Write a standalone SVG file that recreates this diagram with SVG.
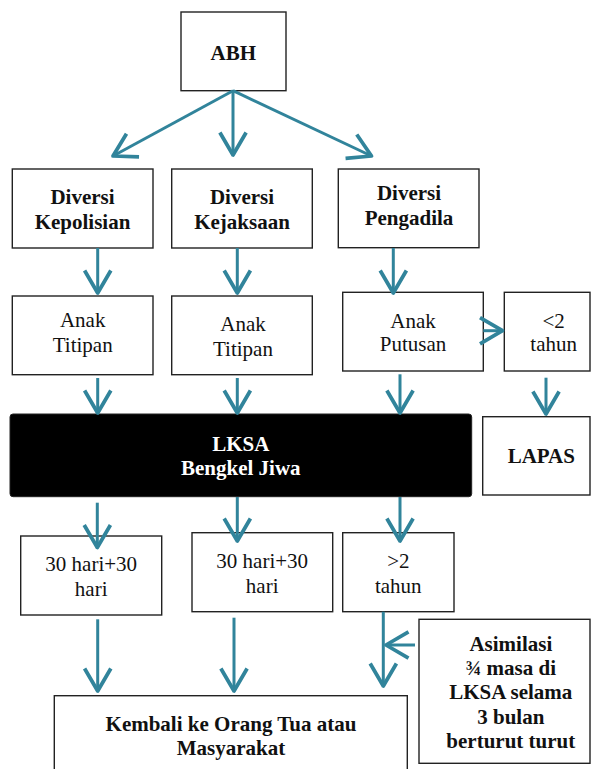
<svg xmlns="http://www.w3.org/2000/svg" width="591" height="769" viewBox="0 0 591 769">
<style>
.box{fill:#fff;stroke:#222;stroke-width:1.4}
.t{font-family:'Liberation Serif','Times New Roman',Tinos,'Nimbus Roman','DejaVu Serif',serif;font-size:21px;text-anchor:middle;fill:#111}
.b{font-weight:bold}
.w{fill:#fff}
.c line{stroke:#31849B;stroke-width:3;fill:none;marker-end:url(#ah)}
</style>
<defs>
<marker id="ah" markerUnits="userSpaceOnUse" markerWidth="40" markerHeight="40" viewBox="-24 -16 28 32" refX="0" refY="0" orient="auto" overflow="visible">
<path d="M-18,-10.5 L0,0 L-18,10.5" fill="none" stroke="#31849B" stroke-width="3" stroke-linejoin="round"/>
</marker>
</defs>
<rect width="591" height="769" fill="#fff"/>
<g id="abh"><rect class="box" x="181" y="12" width="105" height="78.7"/><text class="t b" x="233.3" y="60">ABH</text></g>
<g id="div-kepolisian"><rect class="box" x="12.3" y="169" width="140.7" height="79"/><text class="t b" x="82.5" y="204">Diversi</text><text class="t b" x="82.5" y="229">Kepolisian</text></g>
<g id="div-kejaksaan"><rect class="box" x="171.7" y="169" width="140.6" height="79"/><text class="t b" x="242" y="204">Diversi</text><text class="t b" x="242" y="229">Kejaksaan</text></g>
<g id="div-pengadila"><rect class="box" x="338.3" y="169" width="140.7" height="78.7"/><text class="t b" x="409" y="200">Diversi</text><text class="t b" x="409" y="225">Pengadila</text></g>
<g id="titipan1"><rect class="box" x="12.3" y="296" width="140.7" height="78.7"/><text class="t" x="82.7" y="327">Anak</text><text class="t" x="82.7" y="351.7">Titipan</text></g>
<g id="titipan2"><rect class="box" x="171.7" y="296" width="140.6" height="78.7"/><text class="t" x="243" y="330.7">Anak</text><text class="t" x="243" y="356">Titipan</text></g>
<g id="putusan"><rect class="box" x="342.7" y="292.3" width="140.6" height="78.7"/><text class="t" x="413" y="328.3">Anak</text><text class="t" x="413" y="351">Putusan</text></g>
<g id="kurang2"><rect class="box" x="504.3" y="292.3" width="85.7" height="78.7"/><text class="t" x="553.7" y="328.3">&lt;2</text><text class="t" x="553.7" y="351">tahun</text></g>
<g id="lksa"><rect x="10" y="414" width="461.7" height="82.7" rx="3" fill="#000" stroke="#222" stroke-width="1"/><text class="t b w" x="240.8" y="451">LKSA</text><text class="t b w" x="240.8" y="475">Bengkel Jiwa</text></g>
<g id="lapas"><rect class="box" x="482.7" y="416.7" width="107.3" height="78.3"/><text class="t b" x="541.3" y="462.7">LAPAS</text></g>
<g id="hari1"><rect class="box" x="20.7" y="536" width="141" height="79"/><text class="t" x="91.2" y="571">30 hari+30</text><text class="t" x="91.2" y="596">hari</text></g>
<g id="hari2"><rect class="box" x="192" y="532.7" width="140.7" height="79"/><text class="t" x="262.2" y="568.3">30 hari+30</text><text class="t" x="262.2" y="592.7">hari</text></g>
<g id="lebih2"><rect class="box" x="342.7" y="532.7" width="111.3" height="79"/><text class="t" x="398.3" y="568.3">&gt;2</text><text class="t" x="398.3" y="592.7">tahun</text></g>
<g id="kembali"><rect class="box" x="54.3" y="695.7" width="353" height="90"/><text class="t b" x="231" y="730.7">Kembali ke Orang Tua atau</text><text class="t b" x="231" y="755">Masyarakat</text></g>
<g id="asimilasi"><rect class="box" x="419" y="619.3" width="171" height="144"/><text class="t b" x="510.8" y="651">Asimilasi</text><text class="t b" x="510.8" y="675">¾ masa di</text><text class="t b" x="510.8" y="699.3">LKSA selama</text><text class="t b" x="510.8" y="724">3 bulan</text><text class="t b" x="510.8" y="748.3">berturut turut</text></g>
<g id="connectors" class="c">
<line x1="233" y1="90.7" x2="113" y2="156"/>
<line x1="233" y1="90.7" x2="233" y2="155"/>
<line x1="233" y1="90.7" x2="371.5" y2="156"/>
<line x1="97.7" y1="248" x2="97.7" y2="293"/>
<line x1="237.3" y1="248" x2="237.3" y2="293"/>
<line x1="393.3" y1="248" x2="393.3" y2="293"/>
<line x1="483.3" y1="330.7" x2="502.5" y2="330.7"/>
<line x1="97.7" y1="378" x2="97.7" y2="413"/>
<line x1="237.3" y1="378" x2="237.3" y2="413"/>
<line x1="400" y1="374.3" x2="400" y2="413"/>
<line x1="546" y1="377.7" x2="546" y2="414"/>
<line x1="97.3" y1="502.7" x2="97.3" y2="547.5"/>
<line x1="237.3" y1="497" x2="237.3" y2="541"/>
<line x1="400" y1="497" x2="400" y2="541"/>
<line x1="97.7" y1="619.3" x2="97.7" y2="691"/>
<line x1="234" y1="617.7" x2="234" y2="691"/>
<line x1="383.3" y1="611.7" x2="383.3" y2="686"/>
<line x1="415" y1="645" x2="386" y2="645"/>
</g>
</svg>
